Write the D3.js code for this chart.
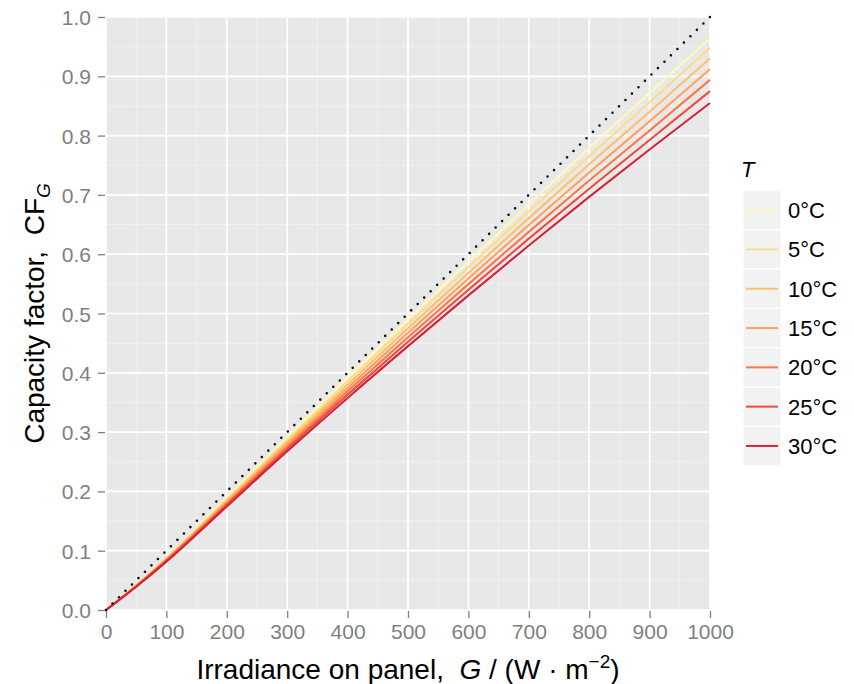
<!DOCTYPE html>
<html>
<head>
<meta charset="utf-8">
<script src="https://cdn.jsdelivr.net/npm/d3@7"></script>
<style>
  html, body { margin: 0; padding: 0; background: #ffffff; }
  svg { display: block; font-family: "Liberation Sans", Arial, Helvetica, sans-serif; }
  text { white-space: pre; }
</style>
</head>
<body>
<svg id="chart" width="854" height="684"></svg>
<script>
// Irradiance grid (W/m^2) and ambient temperatures
const irradiance = [0, 50, 100, 200, 300, 400, 500, 600, 700, 800, 900, 1000];
const temperatureLabels = ["0°C", "5°C", "10°C", "15°C", "20°C", "25°C", "30°C"];
const lineColors = ["#FDF9BE", "#FEDC8A", "#FEC06C", "#FDA15C", "#F67A4B", "#EE4B3D", "#D3243C"];

// Capacity factor for each temperature, one value per irradiance step
const cf0  = [0, 0.0420, 0.0885, 0.1890, 0.2910, 0.3912, 0.4900, 0.5874, 0.6839, 0.7792, 0.8721, 0.964];
const cf5  = [0, 0.0415, 0.0873, 0.1866, 0.2871, 0.3856, 0.4825, 0.5779, 0.6724, 0.7654, 0.8562, 0.948];
const cf10 = [0, 0.0410, 0.0862, 0.1842, 0.2832, 0.3800, 0.4750, 0.5684, 0.6608, 0.7517, 0.8402, 0.930];
const cf15 = [0, 0.0406, 0.0850, 0.1818, 0.2793, 0.3744, 0.4675, 0.5590, 0.6493, 0.7379, 0.8243, 0.912];
const cf20 = [0, 0.0401, 0.0838, 0.1794, 0.2754, 0.3688, 0.4600, 0.5495, 0.6377, 0.7242, 0.8084, 0.894];
const cf25 = [0, 0.0397, 0.0827, 0.1770, 0.2715, 0.3632, 0.4525, 0.5400, 0.6262, 0.7104, 0.7925, 0.875];
const cf30 = [0, 0.0392, 0.0815, 0.1746, 0.2676, 0.3576, 0.4450, 0.5305, 0.6146, 0.6966, 0.7765, 0.855];

// Ideal reference: CF equal to G / 1000
const idealG = [0, 1000];
const idealCF = [0, 1];

const xTicks = [0, 100, 200, 300, 400, 500, 600, 700, 800, 900, 1000];
const yTicks = [0, 0.1, 0.2, 0.3, 0.4, 0.5, 0.6, 0.7, 0.8, 0.9, 1.0];
const xMinor = [50, 150, 250, 350, 450, 550, 650, 750, 850, 950];
const yMinor = [0.05, 0.15, 0.25, 0.35, 0.45, 0.55, 0.65, 0.75, 0.85, 0.95];

const series = [cf0, cf5, cf10, cf15, cf20, cf25, cf30];

const svg = d3.select("#chart");
const panel = { left: 106, right: 710, top: 17, bottom: 610 };

const x = d3.scaleLinear().domain([0, 1000]).range([panel.left, panel.right]);
const y = d3.scaleLinear().domain([0, 1]).range([panel.bottom, panel.top]);

// Panel background
svg.append("rect")
  .attr("x", panel.left).attr("y", panel.top)
  .attr("width", panel.right - panel.left).attr("height", panel.bottom - panel.top)
  .attr("fill", "#E8E8E8");

const grid = svg.append("g");
// Minor grid
grid.selectAll(".vminor").data(xMinor).join("line")
  .attr("x1", d => x(d)).attr("x2", d => x(d))
  .attr("y1", panel.top).attr("y2", panel.bottom)
  .attr("stroke", "#F3F3F3").attr("stroke-width", 0.8);
grid.selectAll(".hminor").data(yMinor).join("line")
  .attr("y1", d => y(d)).attr("y2", d => y(d))
  .attr("x1", panel.left).attr("x2", panel.right)
  .attr("stroke", "#F3F3F3").attr("stroke-width", 0.8);
// Major grid
grid.selectAll(".vmajor").data(xTicks).join("line")
  .attr("x1", d => x(d)).attr("x2", d => x(d))
  .attr("y1", panel.top).attr("y2", panel.bottom)
  .attr("stroke", "#FFFFFF").attr("stroke-width", 1.7);
grid.selectAll(".hmajor").data(yTicks).join("line")
  .attr("y1", d => y(d)).attr("y2", d => y(d))
  .attr("x1", panel.left).attr("x2", panel.right)
  .attr("stroke", "#FFFFFF").attr("stroke-width", 1.7);

// Clip to panel
svg.append("clipPath").attr("id", "panelClip")
  .append("rect")
  .attr("x", panel.left).attr("y", panel.top - 2)
  .attr("width", panel.right - panel.left + 2).attr("height", panel.bottom - panel.top + 4);

const plot = svg.append("g").attr("clip-path", "url(#panelClip)");

const line = d3.line()
  .x((d, i) => x(irradiance[i]))
  .y(d => y(d))
  .curve(d3.curveMonotoneX);

plot.selectAll(".cf").data(series).join("path")
  .attr("d", d => line(d))
  .attr("fill", "none")
  .attr("stroke", (d, i) => lineColors[i])
  .attr("stroke-width", 2.1);

// Dotted ideal line
const idealLine = d3.line().x((d, i) => x(idealG[i])).y(d => y(d));
svg.append("path")
  .attr("d", idealLine(idealCF))
  .attr("fill", "none")
  .attr("stroke", "#111111")
  .attr("stroke-width", 2.6)
  .attr("stroke-linecap", "round")
  .attr("stroke-dasharray", "0 9.1");

// Axes
const tickColor = "#7F7F7F";
const xAxis = d3.axisBottom(x).tickValues(xTicks).tickFormat(d3.format("d")).tickSize(7).tickPadding(6);
const yAxis = d3.axisLeft(y).tickValues(yTicks).tickFormat(d3.format(".1f")).tickSize(7).tickPadding(7);

const gx = svg.append("g").attr("transform", `translate(0,${panel.bottom + 1})`).call(xAxis);
const gy = svg.append("g").attr("transform", `translate(${panel.left - 1},0)`).call(yAxis);
[gx, gy].forEach(g => {
  g.select(".domain").remove();
  g.selectAll(".tick line").attr("stroke", tickColor).attr("stroke-width", 1.3);
  g.selectAll(".tick text")
    .attr("fill", tickColor)
    .style("font-size", "21px")
    .style("font-family", "'Liberation Sans', Arial, sans-serif");
});
gy.selectAll(".tick text").attr("dy", "0.36em");
gx.selectAll(".tick text").attr("dy", "0.72em");

// X axis title
const xt = svg.append("text")
  .attr("x", (panel.left + panel.right) / 2)
  .attr("y", 679)
  .attr("text-anchor", "middle")
  .attr("fill", "#000")
  .style("font-size", "28px");
xt.append("tspan").text("Irradiance on panel,  ");
xt.append("tspan").attr("font-style", "italic").text("G");
xt.append("tspan").text(" / (W \u00B7 m");
xt.append("tspan").attr("dy", -11).style("font-size", "19px").text("\u22122");
xt.append("tspan").attr("dy", 11).text(")");

// Y axis title
const yt = svg.append("text")
  .attr("transform", `translate(44,${(panel.top + panel.bottom) / 2}) rotate(-90)`)
  .attr("text-anchor", "middle")
  .attr("fill", "#000")
  .style("font-size", "28px");
yt.append("tspan").text("Capacity factor,  CF");
yt.append("tspan").attr("dy", 6).attr("font-style", "italic").style("font-size", "19px").text("G");

// Legend
const legend = svg.append("g");
legend.append("text")
  .attr("x", 741).attr("y", 177)
  .attr("font-style", "italic")
  .style("font-size", "22px")
  .attr("fill", "#000")
  .text("T");

const keyTop = 190.5, keyH = 39.3, keyX = 743, keyW = 38;
const keys = legend.selectAll(".key").data(temperatureLabels).join("g")
  .attr("transform", (d, i) => `translate(${keyX},${keyTop + i * keyH})`);
keys.append("rect")
  .attr("width", keyW).attr("height", keyH)
  .attr("fill", "#F2F2F2")
  .attr("stroke", "#FFFFFF").attr("stroke-width", 1.2);
keys.append("line")
  .attr("x1", 3).attr("x2", keyW - 3)
  .attr("y1", keyH / 2).attr("y2", keyH / 2)
  .attr("stroke", (d, i) => lineColors[i])
  .attr("stroke-width", 2);
keys.append("text")
  .attr("x", keyW + 7).attr("y", keyH / 2)
  .attr("dy", "0.36em")
  .style("font-size", "22px")
  .attr("fill", "#000")
  .text(d => d);
</script>
</body>
</html>
